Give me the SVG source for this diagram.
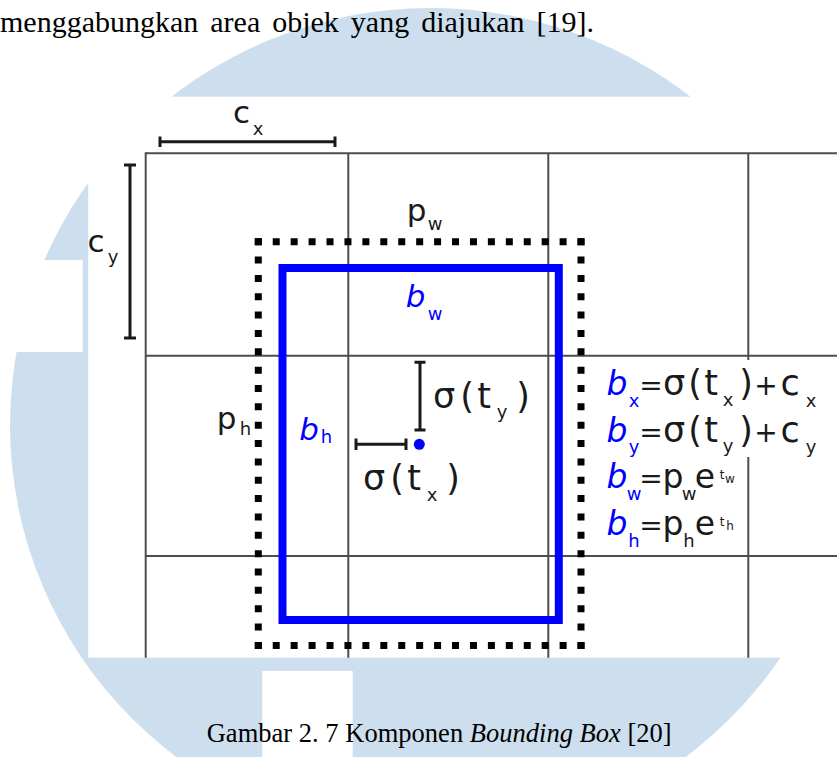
<svg xmlns="http://www.w3.org/2000/svg" width="837" height="757" viewBox="0 0 837 757">
<style>
.wm{fill:#cddfee}
.bg{fill:#ffffff}
.body{font-family:"Liberation Serif","Times New Roman",serif;fill:#000}
.grid line{stroke:#4d4d4d;stroke-width:2}
.bar{stroke:#1a1a1a;stroke-width:3;fill:none}
.dots line{stroke:#000;stroke-width:7;stroke-linecap:butt}
.lbl{font-family:"DejaVu Sans",sans-serif;fill:#1a1a1a;font-size:31px;text-anchor:middle}
.eq{font-family:"DejaVu Sans",sans-serif;fill:#1a1a1a;font-size:35px;text-anchor:middle}
.blue{fill:#0000ff}
.it{font-style:italic}
.sub{font-size:18px;font-style:normal}
.op{font-size:28px}
.sm{font-size:33px}
.sup{font-size:12px}
</style>
<rect width="837" height="757" fill="#fff"/>
<g id="watermark">
<ellipse class="wm" cx="431" cy="425" rx="421" ry="417"/>
<rect class="bg" x="88.3" y="96.7" width="748.7" height="561"/>
<rect class="bg" x="0" y="260" width="82.7" height="92"/>
<rect class="bg" x="262.3" y="671" width="90.4" height="86"/>
</g>
<text id="bodytext" class="body" x="0" y="31.7" font-size="30" word-spacing="4.5">menggabungkan area objek yang diajukan [19].</text>
<g id="grid" class="grid">
<line x1="145.7" y1="153.3" x2="837" y2="153.3"/>
<line x1="145.7" y1="355.7" x2="837" y2="355.7"/>
<line x1="145.7" y1="556" x2="837" y2="556"/>
<line x1="145.7" y1="152.3" x2="145.7" y2="657.7"/>
<line x1="348.3" y1="153.3" x2="348.3" y2="657.7"/>
<line x1="548.3" y1="153.3" x2="548.3" y2="657.7"/>
<line x1="748.3" y1="153.3" x2="748.3" y2="657.7"/>
</g>
<g id="prior-box" class="dots">
<line x1="254.8" y1="241.7" x2="584.5" y2="241.7" stroke-dasharray="7 10.93"/>
<line x1="254.8" y1="645.4" x2="584.5" y2="645.4" stroke-dasharray="7 10.93"/>
<line x1="258.3" y1="238.2" x2="258.3" y2="648.9" stroke-dasharray="7 11.35"/>
<line x1="581" y1="238.2" x2="581" y2="648.9" stroke-dasharray="7 11.35"/>
</g>
<g id="bounding-box">
<rect x="282.5" y="268" width="276.3" height="352" fill="none" stroke="#0000ff" stroke-width="8"/>
<circle cx="419.3" cy="444.3" r="5.5" fill="#0000ff"/>
</g>
<g id="measures" class="bar">
<path d="M160 141.7H335M160 136.5V147M335 136.5V147"/>
<path d="M130 165V338M124 165H136M124 338H136"/>
<path d="M420 362.3V430M414.5 362.3H425.5M414.5 430H425.5"/>
<path d="M356 444.3H406M356 438.5V450M406 438.5V450"/>
</g>
<g id="labels">
<text class="lbl" x="241.5" y="123">c<tspan class="sub" x="258" y="135">x</tspan></text>
<text class="lbl" x="96" y="252">c<tspan class="sub" x="113" y="263">y</tspan></text>
<text class="lbl" x="416.5" y="220.5">p<tspan class="sub" x="435" y="230">w</tspan></text>
<text class="lbl" x="226.5" y="428.7">p<tspan class="sub" x="245.5" y="435">h</tspan></text>
<text class="lbl blue it" x="415.5" y="306.7" font-size="34">b<tspan class="sub" x="435" y="320">w</tspan></text>
<text class="lbl blue it" x="309" y="440" font-size="34">b<tspan class="sub" x="326.5" y="443.3">h</tspan></text>
<text class="eq" x="444" y="408.3">σ<tspan x="467">(</tspan><tspan x="484">t</tspan><tspan class="sub" x="502" y="418">y</tspan><tspan x="523" y="408.3">)</tspan></text>
<text class="eq" x="374" y="490">σ<tspan x="397">(</tspan><tspan x="414">t</tspan><tspan class="sub" x="432" y="501">x</tspan><tspan x="453" y="490">)</tspan></text>
</g>
<g id="equations">
<rect class="bg" x="600" y="360" width="232" height="97"/>
<text class="eq" y="394.5"><tspan class="blue it sm" x="617">b</tspan><tspan class="blue sub" x="634" y="407">x</tspan><tspan class="op" x="651" y="394.5">=</tspan><tspan x="674">σ</tspan><tspan x="695">(</tspan><tspan x="711">t</tspan><tspan class="sub" x="728" y="406">x</tspan><tspan x="746" y="394.5">)</tspan><tspan class="op" x="766">+</tspan><tspan x="790">c</tspan><tspan class="sub" x="811" y="407">x</tspan></text>
<text class="eq" y="441.5"><tspan class="blue it sm" x="617">b</tspan><tspan class="blue sub" x="634" y="453">y</tspan><tspan class="op" x="651" y="441.5">=</tspan><tspan x="674">σ</tspan><tspan x="695">(</tspan><tspan x="711">t</tspan><tspan class="sub" x="728" y="452">y</tspan><tspan x="746" y="441.5">)</tspan><tspan class="op" x="766">+</tspan><tspan x="790">c</tspan><tspan class="sub" x="811" y="453">y</tspan></text>
<text class="eq" y="488"><tspan class="blue it sm" x="617">b</tspan><tspan class="blue sub" x="634" y="500">w</tspan><tspan class="op" x="651" y="488">=</tspan><tspan class="sm" x="673">p</tspan><tspan class="sub" x="689" y="500">w</tspan><tspan class="sm" x="705" y="488">e</tspan><tspan class="sup" x="722" y="479">t</tspan><tspan class="sup" x="730" y="483" font-size="8">w</tspan></text>
<text class="eq" y="535"><tspan class="blue it sm" x="617">b</tspan><tspan class="blue sub" x="634" y="547">h</tspan><tspan class="op" x="651" y="535">=</tspan><tspan class="sm" x="673">p</tspan><tspan class="sub" x="689" y="547">h</tspan><tspan class="sm" x="705" y="535">e</tspan><tspan class="sup" x="722" y="526">t</tspan><tspan class="sup" x="730" y="530" font-size="8">h</tspan></text>
</g>
<text id="caption" class="body" x="206.7" y="741.7" font-size="26.5" textLength="465" lengthAdjust="spacing">Gambar 2. 7 Komponen <tspan font-style="italic">Bounding Box</tspan> [20]</text>
</svg>
